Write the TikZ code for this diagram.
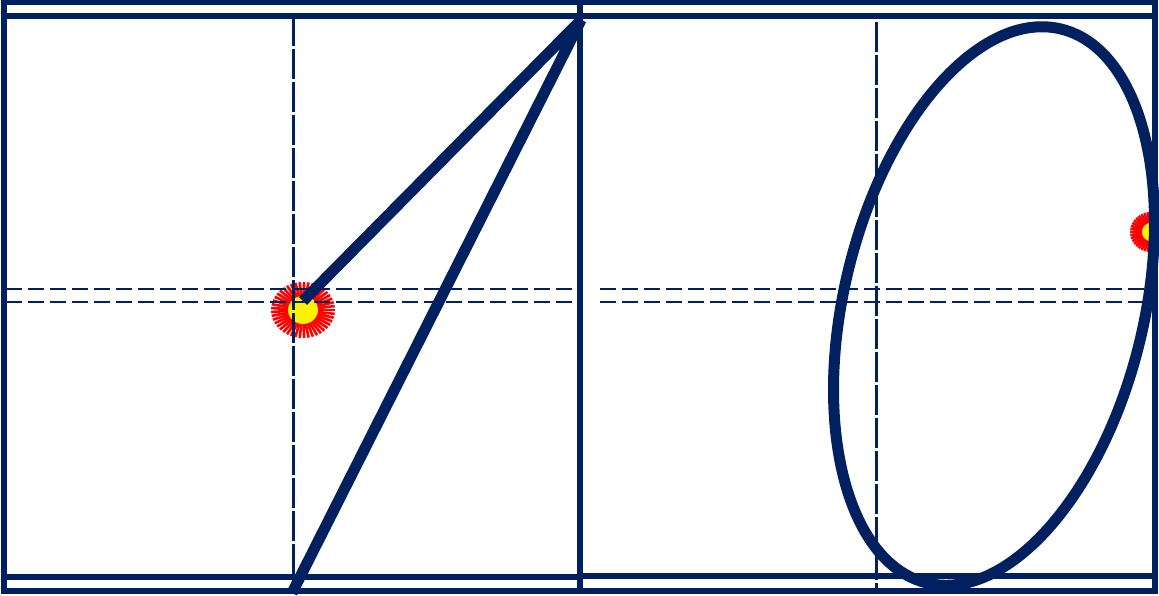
\documentclass[tikz,border=0pt]{standalone}
\definecolor{navy}{RGB}{0,32,96}
\begin{document}
\begin{tikzpicture}[x=1pt,y=-1pt,
  frame/.style={draw=navy,line width=5.5pt},
  guide/.style={draw=navy,line width=2pt,dash pattern=on 16pt off 6pt},
  vguide/.style={draw=navy,line width=3pt,dash pattern=on 30pt off 3pt},
  heavy/.style={draw=navy,line width=11pt,line join=bevel},
  ray/.style={draw=red,line width=2.6pt},
  core/.style={fill=yellow}]
\useasboundingbox (0,0) rectangle (1159,595);
% sun left
\coordinate (s1) at (303,310);
\foreach \a in {0,8,...,352}
  \draw[ray,shift={(s1)}] ({14*cos(\a)},{13*sin(\a)}) -- ({32*cos(\a)},{28*sin(\a)});
\fill[core] (s1) ellipse [x radius=15, y radius=14];
% sun right
\coordinate (s2) at (1151,232);
\foreach \a in {0,9,...,351}
  \draw[ray,shift={(s2)}] ({9*cos(\a)},{9*sin(\a)}) -- ({21*cos(\a)},{20*sin(\a)});
\fill[core] (s2) circle [radius=9];
% left panel frames
\draw[frame] (4,2) rectangle (580,591);
\draw[frame] (4,16) rectangle (580,577);
% right panel frames
\draw[frame] (580,2) rectangle (1155,591);
\draw[frame] (580,16) rectangle (1155,576);
% left guides
\coordinate (lv1) at (293,16); \coordinate (lv2) at (293,592);
\draw[vguide] (lv1) -- (lv2);
\coordinate (lh1a) at (6,289); \coordinate (lh1b) at (577,289);
\coordinate (lh2a) at (6,302); \coordinate (lh2b) at (577,302);
\draw[guide] (lh1a) -- (lh1b);
\draw[guide] (lh2a) -- (lh2b);
% right guides
\coordinate (rv1) at (876,22); \coordinate (rv2) at (876,592);
\draw[vguide] (rv1) -- (rv2);
\coordinate (rh1a) at (600,289); \coordinate (rh1b) at (1157,289);
\coordinate (rh2a) at (600,302); \coordinate (rh2b) at (1157,302);
\draw[guide] (rh1a) -- (rh1b);
\draw[guide] (rh2a) -- (rh2b);
% heavy lines left
\coordinate (p1) at (303,301);
\coordinate (p2) at (581,20);
\coordinate (p3) at (292,593);
\draw[heavy] (p1) -- (p2) -- (p3);
% ellipse right
\coordinate (ec) at (994,306);
\draw[heavy,rotate around={76.4:(ec)}] (ec) ellipse [x radius=285, y radius=150];
\end{tikzpicture}
\end{document}
